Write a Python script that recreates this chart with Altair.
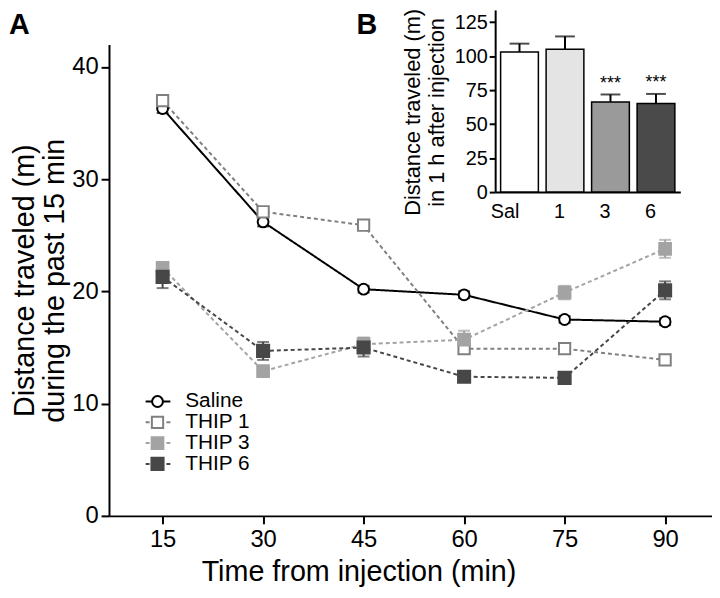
import altair as alt
import pandas as pd

# ---------------- data ----------------
TIMES = [15, 30, 45, 60, 75, 90]
SERIES = ["Saline", "THIP 1", "THIP 3", "THIP 6"]
SALINE = [36.3, 26.2, 20.2, 19.7, 17.5, 17.3]
THIP1 = [37.0, 27.1, 25.9, 14.9, 14.9, 13.9]
THIP3 = [22.1, 12.9, 15.3, 15.7, 19.9, 23.8]
THIP6 = [21.3, 14.7, 15.0, 12.4, 12.3, 20.1]
SALINE_SEM = [0.4, 0.4, 0.3, 0.3, 0.3, 0.3]
THIP1_SEM = [0.4, 0.4, 0.4, 0.4, 0.3, 0.3]
THIP3_SEM = [0.4, 0.4, 0.6, 0.8, 0.6, 0.8]
THIP6_SEM = [1.0, 0.8, 0.8, 0.4, 0.4, 0.8]

GROUPS = ["Sal", "1", "3", "6"]
TOTAL = [103.0, 105.0, 66.3, 65.2]
TOTAL_SEM = [6.2, 9.5, 5.5, 7.0]
STARS = ["", "", "***", "***"]

FONT = "Liberation Sans"
STROKES = ["#000000", "#808080", "#a3a3a3", "#474747"]
FILLS = ["#ffffff", "#ffffff", "#a3a3a3", "#474747"]
BAR_FILLS = ["#ffffff", "#e4e4e4", "#9a9a9a", "#4a4a4a"]

vals = [SALINE, THIP1, THIP3, THIP6]
sems = [SALINE_SEM, THIP1_SEM, THIP3_SEM, THIP6_SEM]
rows = []
for s, v, e in zip(SERIES, vals, sems):
    for t, y, err in zip(TIMES, v, e):
        rows.append({"series": s, "time": t, "dist": y, "lo": y - err, "hi": y + err})
df = pd.DataFrame(rows)
leg = pd.DataFrame({"series": SERIES})
bars = pd.DataFrame({"group": GROUPS, "total": TOTAL,
                     "top": [a + b for a, b in zip(TOTAL, TOTAL_SEM)], "stars": STARS})

W, H = 609, 476

xs = alt.Scale(domain=[7, 97], nice=False, zero=False)
ys = alt.Scale(domain=[0, 42], nice=False)
stroke_enc = alt.Stroke("series:N", scale=alt.Scale(domain=SERIES, range=STROKES), legend=None)
fill_enc = alt.Fill("series:N", scale=alt.Scale(domain=SERIES, range=FILLS), legend=None)
dash_enc = alt.StrokeDash("series:N", scale=alt.Scale(domain=SERIES, range=[[1, 0], [4, 3], [4, 3], [4, 3]]), legend=None)
shape_enc = alt.Shape("series:N", scale=alt.Scale(domain=SERIES, range=["circle", "square", "square", "square"]), legend=None)
size_enc = alt.Size("series:N", scale=alt.Scale(domain=SERIES, range=[120, 150, 160, 160]), legend=None)

x_enc = alt.X("time:Q", scale=xs, axis=alt.Axis(values=TIMES, title="Time from injection (min)",
              labelFontSize=24, titleFontSize=29, tickSize=8, labelPadding=4, titlePadding=6,
              titleX=252, orient="bottom"))
y_enc = alt.Y("dist:Q", scale=ys, axis=alt.Axis(values=[0, 10, 20, 30, 40],
              title=["Distance traveled (m)", "during the past 15 min"], titleFontSize=29,
              titleLineHeight=31, labelFontSize=24, tickSize=8, labelPadding=3, titlePadding=2, orient="left"))

base = alt.Chart(df)
lines = base.mark_line(strokeWidth=2).encode(x=x_enc, y=y_enc, stroke=stroke_enc, strokeDash=dash_enc, detail="series:N")
err_rule = base.mark_rule(strokeWidth=2).encode(x="time:Q", y="lo:Q", y2="hi:Q", stroke=stroke_enc)
cap_color = alt.Color("series:N", scale=alt.Scale(domain=SERIES, range=STROKES), legend=None)
cap_lo = base.mark_tick(orient="horizontal", size=12, thickness=2).encode(x="time:Q", y="lo:Q", color=cap_color)
cap_hi = base.mark_tick(orient="horizontal", size=12, thickness=2).encode(x="time:Q", y="hi:Q", color=cap_color)
points = base.mark_point(filled=True, strokeWidth=2, opacity=1).encode(
    x="time:Q", y="dist:Q", stroke=stroke_enc, fill=fill_enc, shape=shape_enc, size=size_enc)
main = alt.layer(lines, err_rule, cap_lo, cap_hi, points)

# legend drawn from the series list
leg_y = alt.Y("series:N", scale=alt.Scale(domain=SERIES, range=[350, 434], padding=0), axis=None)
lb = alt.Chart(leg)
leg_rule = lb.mark_rule(strokeWidth=2).encode(x=alt.value(37), x2=alt.value(62), y=leg_y, stroke=stroke_enc, strokeDash=dash_enc)
leg_pt = lb.mark_point(filled=True, strokeWidth=2, opacity=1).encode(
    x=alt.value(49), y=leg_y, stroke=stroke_enc, fill=fill_enc, shape=shape_enc,
    size=alt.Size("series:N", scale=alt.Scale(domain=SERIES, range=[110, 120, 130, 130]), legend=None))
leg_tx = lb.mark_text(align="left", baseline="middle", font=FONT, fontSize=21, color="black").encode(
    x=alt.value(77), y=leg_y, text="series:N")
legend = alt.layer(leg_rule, leg_pt, leg_tx)

# inset bar chart
bx = alt.X("group:N", sort=GROUPS, scale=alt.Scale(domain=GROUPS, range=[390, 577], paddingInner=0.17, paddingOuter=0.12),
           axis=alt.Axis(title=None, orient="bottom", offset=-(H - 149), labelAngle=0, labelFontSize=20,
                         ticks=True, tickSize=6, tickOpacity=0, labelBaseline="top", labelPadding=4))
by = alt.Y("total:Q", scale=alt.Scale(domain=[0, 134], nice=False, range=[149, -35]),
           axis=alt.Axis(orient="left", offset=-390, values=[0, 25, 50, 75, 100, 125], labelFontSize=20,
                         tickSize=6, labelPadding=2, title=["Distance traveled (m)", "in 1 h after injection"],
                         titleFontSize=22, titleLineHeight=24, titlePadding=6, titleY=68))
ib = alt.Chart(bars)
bar_err = ib.mark_rule(strokeWidth=2, color="black").encode(x=alt.X("group:N", sort=GROUPS), y="total:Q", y2="top:Q")
bar_cap = ib.mark_tick(orient="horizontal", size=20, thickness=2, color="black").encode(x=alt.X("group:N", sort=GROUPS), y="top:Q")
bar_m = ib.mark_bar(stroke="black", strokeWidth=1.5).encode(
    x=bx, y=by, fill=alt.Fill("group:N", scale=alt.Scale(domain=GROUPS, range=BAR_FILLS), legend=None))
bar_star = ib.mark_text(baseline="bottom", dy=-2, font=FONT, fontSize=18, color="black").encode(
    x=alt.X("group:N", sort=GROUPS), y="top:Q", text="stars:N")
inset = alt.layer(bar_err, bar_cap, bar_m, bar_star)

lab_a = alt.Chart(alt.Data(values=[{"t": "A"}])).mark_text(align="left", baseline="alphabetic", font=FONT, fontSize=29,
                                                           fontWeight="bold", color="black").encode(
    x=alt.value(-101), y=alt.value(-11), text="t:N")
lab_b = alt.Chart(alt.Data(values=[{"t": "B"}])).mark_text(align="left", baseline="alphabetic", font=FONT, fontSize=29,
                                                           fontWeight="bold", color="black").encode(
    x=alt.value(250), y=alt.value(-11), text="t:N")

chart = alt.layer(main, legend, inset, lab_a, lab_b).resolve_scale(
    x="independent", y="independent", fill="independent"
).properties(
    width=W, height=H, autosize=alt.AutoSizeParams(type="none"),
    padding={"left": 102, "top": 34, "right": 0, "bottom": 80}
).configure_view(stroke=None).configure_axis(
    grid=False, domainColor="black", tickColor="black", labelColor="black", titleColor="black",
    labelFont=FONT, titleFont=FONT, titleFontWeight="normal", domainWidth=2, tickWidth=2
)

chart.save("out.html", embed_options={"renderer": "svg", "actions": False})
